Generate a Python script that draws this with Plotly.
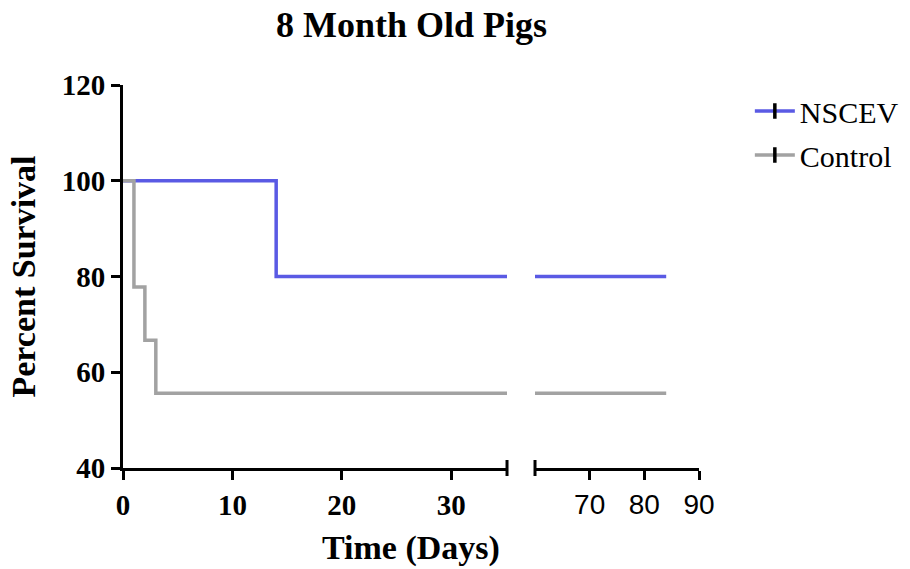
import plotly.graph_objects as go

# ---- data ----
nscev_days = [0, 14, 84]
nscev_surv = [100, 80, 80]
control_days = [0, 1, 2, 3, 84]
control_surv = [100, 77.8, 66.7, 55.6, 55.6]

y_ticks = [40, 60, 80, 100, 120]
x_left_ticks = [0, 10, 20, 30]
x_right_ticks = [70, 80, 90]

title_text = "8 Month Old Pigs"
y_title = "Percent Survival"
x_title = "Time (Days)"
series_names = ["NSCEV", "Control"]

BLUE = "#5a5ae4"
GRAY = "#a2a2a2"
SERIF = "Liberation Serif, Times New Roman, serif"
SANS = "Liberation Sans, Arial, sans-serif"

fig = go.Figure()

series = [(nscev_days, nscev_surv, BLUE, series_names[0]),
          (control_days, control_surv, GRAY, series_names[1])]

for xa in ["x", "x2"]:
    for days, surv, col, name in series:
        fig.add_trace(go.Scatter(
            x=days, y=surv, mode="lines", line=dict(color=col, width=3.5, shape="hv"),
            xaxis=xa, yaxis="y", showlegend=False, hoverinfo="skip"))

# legend-only entries
for i, (days, surv, col, name) in enumerate(series):
    fig.add_trace(go.Scatter(
        x=[None], y=[None], mode="lines+markers", name=name,
        legendgroup=name,
        line=dict(color=col, width=3.5),
        marker=dict(symbol="line-ns", size=11, color="black",
                    line=dict(color="black", width=3.5))))

axis_common = dict(showline=True, linecolor="black", linewidth=3, ticks="outside",
                   ticklen=9, tickwidth=3, tickcolor="black", showgrid=False,
                   zeroline=False)

fig.update_layout(
    width=910, height=569,
    margin=dict(l=123, r=211, t=85, b=101, autoexpand=False),
    paper_bgcolor="white", plot_bgcolor="white",
    title=dict(text="<b>" + title_text + "</b>", x=0.4522, xanchor="center",
               y=0.957, yanchor="middle",
               font=dict(family=SERIF, size=36, color="black")),
    xaxis=dict(domain=[0, 0.6667], range=[0, 35.1], tickvals=x_left_ticks,
               ticktext=["<b>%d</b>" % v for v in x_left_ticks],
               tickfont=dict(family=SERIF, size=29, color="black"),
               anchor="y", **axis_common),
    xaxis2=dict(domain=[0.7153, 1], range=[60, 90], tickvals=x_right_ticks,
                tickfont=dict(family=SANS, size=28, color="black"),
                anchor="y", **axis_common),
    yaxis=dict(range=[40, 120], tickvals=y_ticks,
               ticktext=["<b>%d</b>" % v for v in y_ticks],
               tickfont=dict(family=SERIF, size=29, color="black"),
               title=dict(text="<b>" + y_title + "</b>",
                          font=dict(family=SERIF, size=34, color="black"),
                          standoff=16),
               **axis_common),
    legend=dict(xref="container", yref="container", x=0.824, xanchor="left",
                y=0.8506, yanchor="top",
                font=dict(family=SERIF, size=30, color="black"),
                tracegroupgap=2, itemwidth=40, bgcolor="rgba(0,0,0,0)"),
    showlegend=True,
)

fig.add_annotation(text="<b>" + x_title + "</b>", xref="paper", yref="paper",
                   x=0.5, y=-0.209, xanchor="center", yanchor="middle",
                   showarrow=False, font=dict(family=SERIF, size=34, color="black"))

# break caps on the axis ends
cap = 8 / 383
fig.add_shape(type="line", xref="x domain", yref="y domain", x0=1, x1=1,
              y0=-cap, y1=cap, line=dict(color="black", width=3))
fig.add_shape(type="line", xref="x2 domain", yref="y domain", x0=0, x1=0,
              y0=-cap, y1=cap, line=dict(color="black", width=3))

fig.write_html("out.html", config={"displayModeBar": False},
               post_script="document.body.style.margin='0';document.body.style.overflow='hidden';")
